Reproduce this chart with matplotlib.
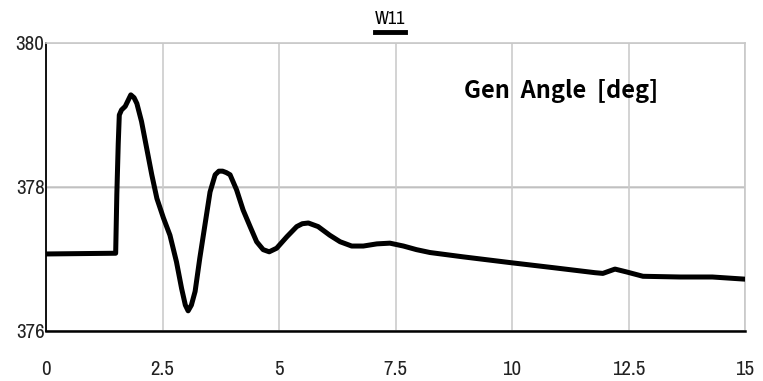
import matplotlib

matplotlib.use("Agg")

import matplotlib.pyplot as plt
from matplotlib.lines import Line2D

# Generator angle trace (time in s, angle in deg)
time_s = [0.0, 1.495, 1.52, 1.55, 1.573, 1.62, 1.70, 1.76, 1.82, 1.89, 1.95, 2.05,
          2.16, 2.27, 2.38, 2.52, 2.66, 2.80, 2.91, 2.99, 3.05, 3.12, 3.20, 3.30,
          3.41, 3.52, 3.63, 3.71, 3.79, 3.87, 3.95, 4.09, 4.23, 4.38, 4.52, 4.66,
          4.79, 4.95, 5.17, 5.38, 5.50, 5.63, 5.84, 6.09, 6.31, 6.56, 6.81, 7.10,
          7.38, 7.67, 7.95, 8.24, 8.95, 9.96, 10.88, 11.78, 11.95, 12.21, 12.46,
          12.81, 13.61, 14.30, 15.0]
angle_deg = [377.07, 377.08, 377.90, 378.60, 379.00, 379.07, 379.12, 379.20, 379.28,
             379.24, 379.16, 378.91, 378.54, 378.17, 377.84, 377.57, 377.33, 376.96,
             376.59, 376.36, 376.28, 376.36, 376.55, 377.01, 377.47, 377.93, 378.17,
             378.22, 378.22, 378.20, 378.17, 377.96, 377.68, 377.45, 377.24, 377.13,
             377.10, 377.15, 377.31, 377.45, 377.49, 377.50, 377.45, 377.33, 377.24,
             377.18, 377.18, 377.21, 377.22, 377.18, 377.13, 377.09, 377.03, 376.95,
             376.88, 376.81, 376.80, 376.86, 376.82, 376.76, 376.75, 376.75, 376.72]

x_ticks = [0, 2.5, 5, 7.5, 10, 12.5, 15]
x_tick_labels = ["0", "2.5", "5", "7.5", "10", "12.5", "15"]
y_ticks = [376, 378, 380]
y_tick_labels = ["376", "378", "380"]

NARROW = ["Liberation Sans Narrow", "Archivo Narrow", "Roboto Condensed", "Liberation Sans"]


def main() -> None:
    fig = plt.figure(figsize=(7.63, 3.81), dpi=100)
    ax = fig.add_axes([46 / 763, 1 - 331 / 381, 699 / 763, 288 / 381])

    ax.plot(time_s, angle_deg, color="black", linewidth=3.6,
            solid_joinstyle="round", solid_capstyle="round", zorder=3)

    ax.set_xlim(0, 15)
    ax.set_ylim(376, 380)
    ax.set_xticks(x_ticks)
    ax.set_xticklabels(x_tick_labels, family=NARROW, fontsize=15)
    ax.set_yticks(y_ticks)
    ax.set_yticklabels(y_tick_labels, family=NARROW, fontsize=15)
    ax.tick_params(axis="x", length=0, pad=21, colors="#222222")
    ax.tick_params(axis="y", length=0, pad=1, colors="#222222")

    ax.grid(True, color="#cccccc", linewidth=1.2, zorder=0)
    ax.axhline(378, color="#888888", linewidth=1.0, zorder=1)

    ax.spines["left"].set_color("black")
    ax.spines["left"].set_linewidth(1.3)
    ax.spines["bottom"].set_color("black")
    ax.spines["bottom"].set_linewidth(1.8)
    ax.spines["top"].set_color("#c8c8c8")
    ax.spines["top"].set_linewidth(1.2)
    ax.spines["right"].set_color("#c8c8c8")
    ax.spines["right"].set_linewidth(1.2)

    ax.text(0.737, 0.835, "Gen  Angle  [deg]", transform=ax.transAxes,
            family=["Noto Sans CJK KR", "DejaVu Sans"], fontweight="bold",
            fontsize=17, ha="center", va="center", zorder=4)

    # legend-like series label above the plot
    fig.text(390 / 763, 1 - 19 / 381, "W11", family=NARROW, fontsize=13,
             ha="center", va="center")
    fig.add_artist(Line2D([375 / 763, 405 / 763], [1 - 32 / 381, 1 - 32 / 381],
                          color="black", linewidth=3.5, transform=fig.transFigure))

    fig.savefig("out.png", dpi=100)
    plt.close(fig)


if __name__ == "__main__":
    main()
